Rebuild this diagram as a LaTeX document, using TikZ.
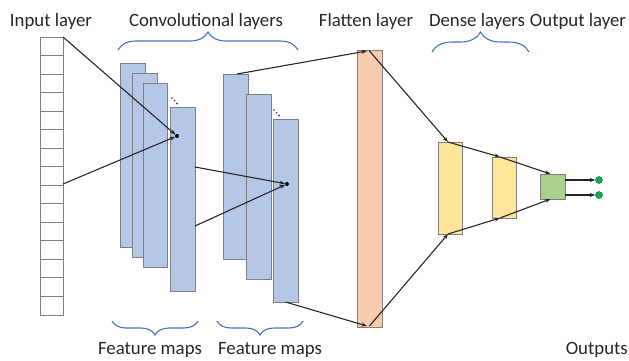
\documentclass[tikz,border=0pt]{standalone}
\usepackage{fontspec}
\setmainfont{Carlito}
\usetikzlibrary{arrows.meta,decorations.pathreplacing,calc}
\definecolor{fmblue}{HTML}{B4C7E7}
\definecolor{boxgray}{HTML}{7F7F7F}
\definecolor{peach}{HTML}{F8CBAD}
\definecolor{dyellow}{HTML}{FFE699}
\definecolor{ogreen}{HTML}{A9D18E}
\definecolor{dotgreen}{HTML}{00B050}
\definecolor{braceblue}{HTML}{4472C4}
\definecolor{txtgray}{HTML}{262626}
\begin{document}
\begin{tikzpicture}[x=1pt,y=-1pt,
  box/.style={draw=boxgray, line width=0.9pt, inner sep=0pt, outer sep=0pt},
  fmap/.style={box, fill=fmblue, minimum width=25pt, minimum height=184pt},
  conn/.style={draw=black!85, line width=1.1pt, -{Stealth[length=5.5pt,width=4pt]}},
  lbl/.style={font=\fontsize{18.8}{20}\selectfont, text=txtgray, inner sep=0pt, anchor=base},
  brc/.style={draw=braceblue, line width=1.1pt, decorate, decoration={brace, amplitude=#1}},
  hub/.style={circle, fill=black, minimum size=4pt, inner sep=0pt, outer sep=0pt},
  outdot/.style={circle, fill=dotgreen, draw=dotgreen!60!black, line width=0.4pt, minimum size=7pt, inner sep=0pt},
  smalldot/.style={fill=black!80}
]
\useasboundingbox (0,0) rectangle (629,360);

% input layer
\node[box, fill=white, minimum width=23pt, minimum height=278pt] (inp) at (51.5,176) {};
\foreach \i in {1,...,14}
  \draw[boxgray, line width=0.9pt] ($(inp.north west)+(0,\i*18.533)$) -- ++(23,0);

% feature maps 1
\node[fmap] (r1) at (132.5,155) {};
\node[fmap] (r2) at (144.5,165) {};
\node[fmap, minimum width=24pt] (r3) at (155,175) {};
\node[fmap] (r4) at (182.5,199) {};
\foreach \k in {0,1,2} \fill[smalldot] (172+\k*2.5,98+\k*2.8) circle (0.9pt);

% feature maps 2
\node[fmap, minimum height=185pt] (s1) at (235.5,166.5) {};
\node[fmap, minimum height=185pt] (s2) at (258.5,186.5) {};
\node[fmap, minimum height=183pt] (s3) at (285.5,210.5) {};
\foreach \k in {0,1,2} \fill[smalldot] (274+\k*2.5,110+\k*2.8) circle (0.9pt);

% flatten
\node[box, fill=peach, minimum width=25pt, minimum height=277pt] (fl) at (369.5,188.5) {};

% dense
\node[box, fill=dyellow, minimum width=24pt, minimum height=92pt] (d1) at (450,188) {};
\node[box, fill=dyellow, minimum width=24pt, minimum height=61pt] (d2) at (504,187.5) {};

% output
\node[box, fill=ogreen, minimum width=25pt, minimum height=25pt] (g) at (552.5,186.5) {};
\node[outdot] (o1) at (599,180) {};
\node[outdot] (o2) at (599,195) {};

% hubs
\node[hub] (c1) at (177,136) {};
\node[hub] (c2) at (287,184) {};

% connectors
\draw[conn] (inp.north east) -- (c1);
\draw[conn] ([yshift=-8pt]inp.east) -- (c1);
\draw[conn] ([yshift=32pt]r4.east) -- (c2);
\draw[conn] ([yshift=-27pt]r4.east) -- (c2);
\draw[conn] ([xshift=1.5pt]s1.north) -- ([xshift=-2.5pt,yshift=-1pt]fl.north);
\draw[conn] (s3.south) -- ([xshift=-2.5pt,yshift=1pt]fl.south);
\draw[conn] ([yshift=-1pt]fl.north) -- ([xshift=-2pt]d1.north);
\draw[conn] ([yshift=1pt]fl.south) -- ([xshift=-2pt]d1.south);
\draw[conn] ([xshift=-2pt]d1.north) -- ([xshift=-4pt]d2.north);
\draw[conn] ([xshift=-2pt]d1.south) -- ([xshift=-4pt]d2.south);
\draw[conn] ([xshift=-4pt]d2.north) -- ([xshift=-2pt]g.north);
\draw[conn] ([xshift=-4pt]d2.south) -- ([xshift=-2pt]g.south);
\draw[conn] ([yshift=6.5pt]g.east) -- (o1);
\draw[conn] ([yshift=-8.5pt]g.east) -- (o2);

% braces
\draw[brc=18pt] (118,50) -- (298,50);
\draw[brc=20pt] (432,52) -- (529,52);
\draw[brc=14pt] (198,321) -- (112,321);
\draw[brc=14pt] (303,321) -- (217,321);

% labels
\node[lbl] (tin) at (51,26) {Input layer};
\node[lbl] (tconv) at (206,26) {Convolutional layers};
\node[lbl] (tfl) at (366,26) {Flatten layer};
\node[lbl] (tden) at (477,26) {Dense layers};
\node[lbl] (tout) at (578,26) {Output layer};
\node[lbl] (tfm1) at (150,354) {Feature maps};
\node[lbl] (tfm2) at (270,354) {Feature maps};
\node[lbl, anchor=base east] (touts) at (628,354) {Outputs};
\end{tikzpicture}
\end{document}
